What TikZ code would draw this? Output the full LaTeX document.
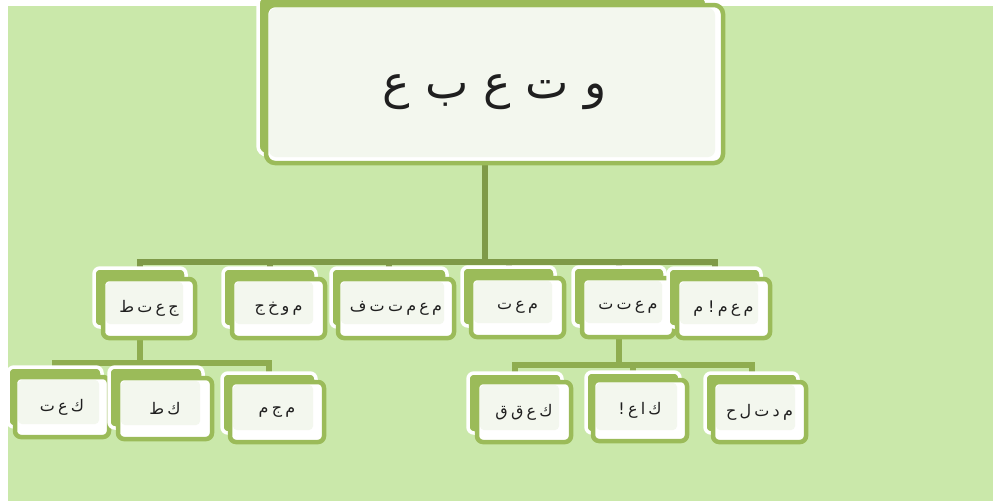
\documentclass[tikz,border=0pt]{standalone}
\usepackage{fontspec}
\newfontfamily\arabicfont[Script=Arabic]{DejaVu Sans}
\TeXXeTstate=1
\usetikzlibrary{calc}
\definecolor{bg}{HTML}{CAE8AA}
\definecolor{gr}{HTML}{9BBB59}
\definecolor{fr}{HTML}{F3F7EE}
\definecolor{cA}{HTML}{7F9A48}
\definecolor{cB}{HTML}{8FAD50}
\newcommand\arsize[2]{\fontsize{#1pt}{#1pt}\selectfont\arabicfont\spaceskip=#2\relax}
\tikzset{
  backbox/.style={fill=gr, draw=white, line width=3.5pt, rounded corners=6pt, inner sep=0pt, outer sep=0pt, anchor=north west},
  frontbox/.style={fill=white, draw=gr, line width=4.5pt, rounded corners=6pt, inner sep=0pt, outer sep=0pt, anchor=north west},
  lightfill/.style={fill=fr, rounded corners=4pt},
  connA/.style={draw=cA, line width=6pt},
  connB/.style={draw=cB, line width=6pt},
  lbl/.style={inner sep=0pt, text=black!88},
  anchorbox/.style={anchor=north west, inner sep=0pt, outer sep=0pt}
}
% name, bx, by, w, h, dx, dy, text
\newcommand\orgbox[8]{%
  \node[backbox, minimum width=#4pt, minimum height=#5pt] (#1) at (#2,#3) {};
  \node[frontbox, minimum width=#4pt, minimum height=#5pt] (#1f) at ($(#1.north west)+(#6,#7)$) {};
  \fill[lightfill] ($(#1f.north west)+(3,3)$) rectangle ($(#1.south east)+(-3,-3)$);
  \node[lbl] (#1t) at (#1f.center) {\arsize{16}{3.2pt}#8};
}
\begin{document}
\begin{tikzpicture}[x=1pt, y=-1pt]
\useasboundingbox (0,0) rectangle (993,501);
\clip (0,0) rectangle (993,501);
\fill[bg] (8,6) rectangle (993,501);

% bar coordinates
\coordinate (barA) at (0,262);
\coordinate (barB) at (0,363);
\coordinate (barC) at (0,365);

% placeholders for connector anchors (boxes drawn afterwards)
\path (258,-5) node[anchorbox, minimum width=449pt, minimum height=160pt] (root) {};
\path (94,268)  node[anchorbox, minimum width=92pt, minimum height=59pt] (p1) {};
\path (223,268) node[anchorbox, minimum width=93pt, minimum height=59pt] (p2) {};
\path (331,268) node[anchorbox, minimum width=116pt, minimum height=59pt] (p3) {};
\path (462,267) node[anchorbox, minimum width=93pt, minimum height=59pt] (p4) {};
\path (573,267) node[anchorbox, minimum width=92pt, minimum height=59pt] (p5) {};
\path (668,268) node[anchorbox, minimum width=93pt, minimum height=59pt] (p6) {};
\path (8,367)   node[anchorbox, minimum width=94pt, minimum height=60pt] (q1) {};
\path (109,367) node[anchorbox, minimum width=94pt, minimum height=61pt] (q2) {};
\path (222,373) node[anchorbox, minimum width=94pt, minimum height=60pt] (q3) {};
\path (468,373) node[anchorbox, minimum width=94pt, minimum height=60pt] (r1) {};
\path (586,372) node[anchorbox, minimum width=94pt, minimum height=61pt] (r2) {};
\path (705,373) node[anchorbox, minimum width=93pt, minimum height=60pt] (r3) {};

% connectors
\foreach \c in {p1,p2,p3,p4,p5,p6}
  \draw[connA] ($(root.south)+(2,0)$) |- (barA -| \c.north) -- (\c.north);
\foreach \c in {q1,q2,q3}
  \draw[connB] (p1.south) |- (barB -| \c.north) -- (\c.north);
\foreach \c in {r1,r2,r3}
  \draw[connB] (p5.south) |- (barC -| \c.north) -- (\c.north);

% root box
\node[backbox, rounded corners=9pt, minimum width=449pt, minimum height=160pt] (rootb) at (258,-5) {};
\node[frontbox, rounded corners=9pt, minimum width=457pt, minimum height=158pt] (rootf) at (266,5) {};
\fill[lightfill, rounded corners=7pt] ($(rootf.north west)+(3,3)$) rectangle ($(rootf.south east)+(-8,-6)$);
\node[lbl] (roott) at ($(rootf.center)+(0,8)$) {\arsize{46}{15pt}\beginR و ت ع ب ع\endR};

% level 1
\orgbox{b1}{94}{268}{92}{59}{9}{11}{\beginR ج ع ت ط\endR}
\orgbox{b2}{223}{268}{93}{59}{9}{11}{\beginR م و خ ج\endR}
\orgbox{b3}{331}{268}{116}{59}{7}{11}{\beginR م ع م ت ت ف\endR}
\orgbox{b4}{462}{267}{93}{59}{9}{11}{\beginR م ع ت\endR}
\orgbox{b5}{573}{267}{92}{59}{9}{11}{\beginR م ع ت ت\endR}
\orgbox{b6}{668}{268}{93}{59}{9}{11}{\beginR م ع م ! م\endR}

% level 2
\orgbox{c1}{8}{367}{94}{60}{7}{10}{\beginR ك ع ت\endR}
\orgbox{c2}{109}{367}{94}{61}{9}{11}{\beginR ك ط\endR}
\orgbox{c3}{222}{373}{94}{60}{8}{9}{\beginR م ج م\endR}
\orgbox{d1}{468}{373}{94}{60}{9}{9}{\beginR ك ع ق ق\endR}
\orgbox{d2}{586}{372}{94}{61}{7}{8}{\beginR ك ا ع !\endR}
\orgbox{d3}{705}{373}{93}{60}{8}{9}{\beginR م د ت ل ح\endR}
\end{tikzpicture}
\end{document}
